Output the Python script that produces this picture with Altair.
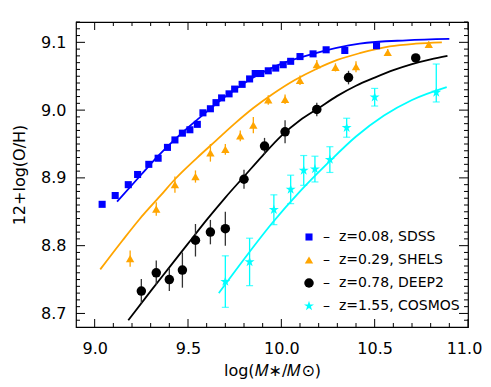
import altair as alt
import pandas as pd
import numpy as np

# ---------------- data ----------------
labels = ["z=0.08, SDSS", "z=0.29, SHELS", "z=0.78, DEEP2", "z=1.55, COSMOS"]
colors = ["#0000ff", "#ffa500", "#000000", "#00ffff"]
STAR = "M0,-1L0.2245,-0.309L0.951,-0.309L0.3633,0.118L0.5878,0.809L0,0.382L-0.5878,0.809L-0.3633,0.118L-0.951,-0.309L-0.2245,-0.309Z"
shapes = ["square", "triangle-up", "circle", STAR]
sizes = [50, 110, 55, 230]
bar_colors = ["#0000ff", "#ffa500", "#333333", "#00ffff"]

sdss_mass = [9.04, 9.11, 9.18, 9.23, 9.29, 9.34, 9.39, 9.43, 9.47, 9.51, 9.55, 9.58, 9.62, 9.65, 9.68,
             9.72, 9.75, 9.79, 9.83, 9.86, 9.89, 9.93, 9.97, 10.01, 10.05, 10.10, 10.17, 10.24, 10.34, 10.51]
sdss_oh = [8.861, 8.874, 8.890, 8.905, 8.920, 8.929, 8.945, 8.956, 8.966, 8.971, 8.979, 8.996, 9.002, 9.011, 9.018,
           9.024, 9.031, 9.038, 9.046, 9.054, 9.054, 9.058, 9.062, 9.067, 9.072, 9.079, 9.083, 9.089, 9.088, 9.095]

shels_mass = [9.19, 9.33, 9.43, 9.54, 9.62, 9.70, 9.78, 9.85, 9.93, 10.02, 10.10, 10.19, 10.29, 10.40, 10.57, 10.79]
shels_oh = [8.781, 8.854, 8.890, 8.902, 8.937, 8.942, 8.962, 8.978, 9.015, 9.016, 9.044, 9.067, 9.063, 9.064, 9.085, 9.097]
shels_err = [0.012, 0.010, 0.012, 0.009, 0.013, 0.008, 0.008, 0.012, 0.007, 0.007, 0.007, 0.007, 0.006, 0.008, 0.005, 0.004]

deep2_mass = [9.25, 9.33, 9.40, 9.47, 9.54, 9.62, 9.70, 9.80, 9.91, 10.02, 10.19, 10.36, 10.72]
deep2_oh = [8.733, 8.760, 8.750, 8.764, 8.808, 8.820, 8.825, 8.898, 8.947, 8.968, 9.001, 9.048, 9.077]
deep2_err = [0.018, 0.018, 0.017, 0.026, 0.024, 0.018, 0.025, 0.014, 0.012, 0.017, 0.010, 0.010, 0.005]

cosmos_mass = [9.70, 9.83, 9.96, 10.05, 10.12, 10.18, 10.26, 10.35, 10.50, 10.83]
cosmos_oh = [8.747, 8.776, 8.853, 8.883, 8.911, 8.913, 8.927, 8.974, 9.019, 9.026]
cosmos_err_lo = [0.038, 0.035, 0.022, 0.021, 0.022, 0.019, 0.019, 0.014, 0.013, 0.014]
cosmos_err_hi = [0.038, 0.035, 0.022, 0.021, 0.022, 0.019, 0.019, 0.014, 0.013, 0.042]

sdss_fit_mass = [9.12, 9.25, 9.335, 9.45, 9.55, 9.72, 9.85, 9.97, 10.17, 10.42, 10.67, 10.90]
sdss_fit_oh = [8.865, 8.905, 8.931, 8.962, 8.986, 9.024, 9.048, 9.065, 9.083, 9.098, 9.103, 9.105]

shels_fit_mass = [9.03, 9.15, 9.24, 9.35, 9.43, 9.55, 9.65, 9.75, 9.85, 9.95, 10.07, 10.19, 10.30, 10.42, 10.58, 10.72, 10.86]
shels_fit_oh = [8.765, 8.808, 8.839, 8.873, 8.898, 8.930, 8.955, 8.980, 9.003, 9.023, 9.044, 9.061, 9.074, 9.084, 9.094, 9.098, 9.100]

deep2_fit_mass = [9.18, 9.30, 9.40, 9.50, 9.60, 9.70, 9.80, 9.90, 10.00, 10.10, 10.20, 10.30, 10.40, 10.50, 10.60, 10.70, 10.80, 10.89]
deep2_fit_oh = [8.690, 8.733, 8.768, 8.803, 8.838, 8.871, 8.902, 8.933, 8.962, 8.985, 9.003, 9.021, 9.036, 9.048, 9.059, 9.068, 9.075, 9.080]

cosmos_fit_mass = [9.665, 9.80, 9.95, 10.10, 10.25, 10.40, 10.55, 10.70, 10.886]
cosmos_fit_oh = [8.730, 8.780, 8.833, 8.880, 8.922, 8.961, 8.992, 9.015, 9.034]

x_major = [9.0, 9.5, 10.0, 10.5, 11.0]
y_major = [8.7, 8.8, 8.9, 9.0, 9.1]

# ---------------- layout ----------------
W, H = 392, 305
XDOM = [8.9, 11.0]
YDOM = [8.68, 9.13]
FONT = "DejaVu Sans"
XTITLE = "log(𝑀∗/𝑀⊙)"
YTITLE = "12+log(O/H)"

xs = alt.Scale(domain=XDOM, nice=False, zero=False)
ys = alt.Scale(domain=YDOM, nice=False, zero=False)

XAX = alt.Axis(
    values=x_major, format=".1f", ticks=False, domain=False, grid=False,
    labelFontSize=16, labelFont=FONT, labelColor="black", labelPadding=13,
    labelFlush=False, labelOverlap=False,
    labelOffset={"condition": {"test": "datum.value >= 11", "value": -4}, "value": 0},
    title=XTITLE, titleFont=FONT, titleFontSize=16, titleFontWeight="normal",
    titleColor="black", titleY=43, titleBaseline="middle")
YAX = alt.Axis(
    values=y_major, format=".1f", ticks=False, domain=False, grid=False,
    labelFontSize=16, labelFont=FONT, labelColor="black", labelPadding=10,
    labelFlush=False, labelOverlap=False,
    title=YTITLE, titleFont=FONT, titleFontSize=16, titleFontWeight="normal",
    titleColor="black", titleX=-57, titleY=H / 2, titleAngle=-90,
    titleAlign="center", titleBaseline="middle")


def X(field):
    return alt.X(field, scale=xs, axis=XAX, title=XTITLE)


def Y(field):
    return alt.Y(field, scale=ys, axis=YAX, title=YTITLE)


points = pd.concat([
    pd.DataFrame({"mass": sdss_mass, "oh": sdss_oh, "survey": labels[0]}),
    pd.DataFrame({"mass": shels_mass, "oh": shels_oh, "survey": labels[1]}),
    pd.DataFrame({"mass": deep2_mass, "oh": deep2_oh, "survey": labels[2]}),
    pd.DataFrame({"mass": cosmos_mass, "oh": cosmos_oh, "survey": labels[3]}),
])

layers = []

# fit lines
fits = [(sdss_fit_mass, sdss_fit_oh), (shels_fit_mass, shels_fit_oh),
        (deep2_fit_mass, deep2_fit_oh), (cosmos_fit_mass, cosmos_fit_oh)]
for (fx, fy), c in zip(fits, colors):
    df = pd.DataFrame({"mass": fx, "oh": fy})
    layers.append(
        alt.Chart(df).mark_line(color=c, strokeWidth=1.8, interpolate="monotone", clip=True).encode(
            x=X("mass:Q"), y=Y("oh:Q"),
        )
    )

# error bars
errs = [
    (shels_mass, shels_oh, shels_err, shels_err, bar_colors[1], False),
    (deep2_mass, deep2_oh, deep2_err, deep2_err, bar_colors[2], False),
    (cosmos_mass, cosmos_oh, cosmos_err_lo, cosmos_err_hi, bar_colors[3], True),
]
for mx, my, elo, ehi, c, caps in errs:
    df = pd.DataFrame({
        "mass": mx,
        "lo": [a - b for a, b in zip(my, elo)],
        "hi": [a + b for a, b in zip(my, ehi)],
    })
    layers.append(
        alt.Chart(df).mark_rule(color=c, strokeWidth=1.3).encode(
            x=X("mass:Q"), y=Y("lo:Q"), y2="hi:Q",
        )
    )
    if caps:
        for col in ["lo", "hi"]:
            layers.append(
                alt.Chart(df).mark_tick(color=c, orient="horizontal", size=7, thickness=1.2).encode(
                    x=X("mass:Q"), y=Y(f"{col}:Q"),
                )
            )


# inward box ticks
def tick_layer(vals, axis, side, length):
    df = pd.DataFrame({"v": vals})
    ch = alt.Chart(df).mark_rule(color="black", strokeWidth=1)
    if axis == "x":
        if side == "bottom":
            return ch.encode(x=X("v:Q"), y=alt.value(H), y2=alt.value(H - length))
        return ch.encode(x=X("v:Q"), y=alt.value(0), y2=alt.value(length))
    if side == "left":
        return ch.encode(y=Y("v:Q"), x=alt.value(0), x2=alt.value(length))
    return ch.encode(y=Y("v:Q"), x=alt.value(W), x2=alt.value(W - length))


x_minor = [round(v, 2) for v in np.arange(9.0, 11.0001, 0.1) if round(v, 2) not in x_major]
y_minor = [round(v, 3) for v in np.arange(8.69, 9.1301, 0.01) if round(v, 3) not in y_major]
for side in ["bottom", "top"]:
    layers.append(tick_layer(x_major, "x", side, 8))
    layers.append(tick_layer(x_minor, "x", side, 4))
for side in ["left", "right"]:
    layers.append(tick_layer(y_major, "y", side, 9))
    layers.append(tick_layer(y_minor, "y", side, 4))

# data points + legend
pts = alt.Chart(points).mark_point(filled=True, opacity=1, strokeWidth=0).encode(
    x=X("mass:Q"),
    y=Y("oh:Q"),
    color=alt.Color("survey:N", scale=alt.Scale(domain=labels, range=colors), legend=alt.Legend(
        title=None, orient="none", legendX=226, legendY=208, padding=0,
        labelFont=FONT, labelFontSize=14, labelColor="black", labelOffset=7,
        labelExpr="'–\u00a0\u00a0' + datum.label", rowPadding=9, symbolSize=85, symbolStrokeWidth=0)),
    shape=alt.Shape("survey:N", scale=alt.Scale(domain=labels, range=shapes)),
    size=alt.Size("survey:N", scale=alt.Scale(domain=labels, range=sizes), legend=None),
)
layers.append(pts)

chart = alt.layer(*layers).properties(
    width=W, height=H,
    autosize=alt.AutoSizeParams(type="none"),
    padding={"left": 68, "top": 14, "right": 15, "bottom": 52},
    background="white",
).configure_view(stroke="black", strokeWidth=1.2)

chart.save("out.html", embed_options={"renderer": "svg", "actions": False})
